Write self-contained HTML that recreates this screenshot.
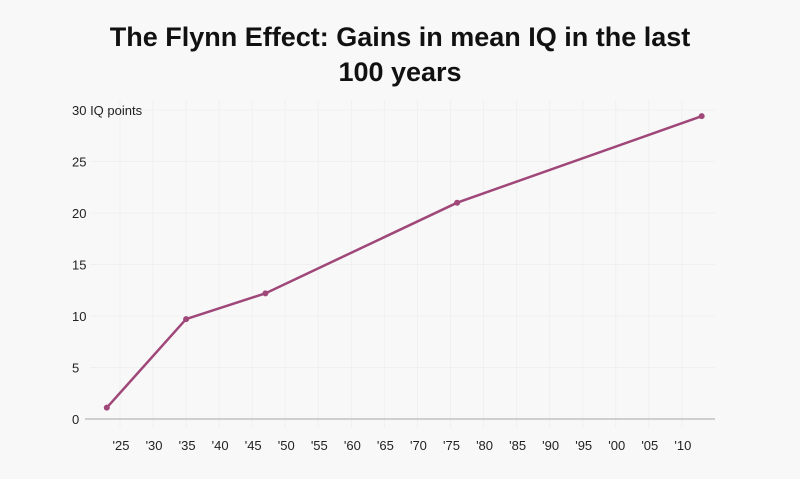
<!DOCTYPE html>
<html><head><meta charset="utf-8"><style>
body{margin:0;background:#f8f8f8;}
svg{display:block;font-family:"Liberation Sans",sans-serif;}
</style></head><body>
<svg width="800" height="479">
<rect width="800" height="479" fill="#f8f8f8"/>
<text x="400" y="46" text-anchor="middle" font-size="27" font-weight="bold" fill="#111">The Flynn Effect: Gains in mean IQ in the last</text>
<text x="400" y="81" text-anchor="middle" font-size="27" font-weight="bold" fill="#111">100 years</text>
<g id="grid"></g><g id="axes"></g><g id="series"></g>
</svg>
<script>
const years=[1923,1935,1947,1976,2013];
const iq=[1.1,9.7,12.2,21.0,29.4];
const yTicks=[0,5,10,15,20,25,30];
const xTickYears=[1925,1930,1935,1940,1945,1950,1955,1960,1965,1970,1975,1980,1985,1990,1995,2000,2005,2010];
const NS='http://www.w3.org/2000/svg';
const X=y=>120+(y-1925)*6.61;
const Y=v=>419-v*10.3;
function mk(t,a,p){const e=document.createElementNS(NS,t);for(const k in a)e.setAttribute(k,a[k]);p.appendChild(e);return e;}
const grid=document.getElementById('grid'),axes=document.getElementById('axes'),ser=document.getElementById('series');
yTicks.forEach(v=>{
 if(v>0){const l=mk('line',{x1:90,x2:715,y1:Y(v),y2:Y(v),stroke:'#f0f0f0','stroke-width':1},grid);
 
 }
 const t=mk('text',{x:72,y:Y(v)+5,'font-size':13,fill:'#222'},axes);
 t.textContent=v===30?'30 IQ points':String(v);
 
 
});
xTickYears.forEach(y=>{
 const l=mk('line',{x1:X(y),x2:X(y),y1:100,y2:428,stroke:'#f0f0f0','stroke-width':1},grid);
 
 
 const t=mk('text',{x:X(y)+1,y:450,'text-anchor':'middle','font-size':13,fill:'#222'},axes);
 t.textContent="'"+String(y%100).padStart(2,'0');
 
 
});
const base=mk('line',{x1:85,x2:715,y1:Y(0),y2:Y(0),stroke:'#cfcfcf','stroke-width':2},axes);


const pl=mk('polyline',{points:years.map((y,i)=>X(y)+','+Y(iq[i])).join(' '),fill:'none',stroke:'#a0477a','stroke-width':2.5},ser);


years.forEach((y,i)=>{
 const c=mk('circle',{cx:X(y),cy:Y(iq[i]),r:3,fill:'#a0477a'},ser);
 
 
});
</script>
</body></html>
